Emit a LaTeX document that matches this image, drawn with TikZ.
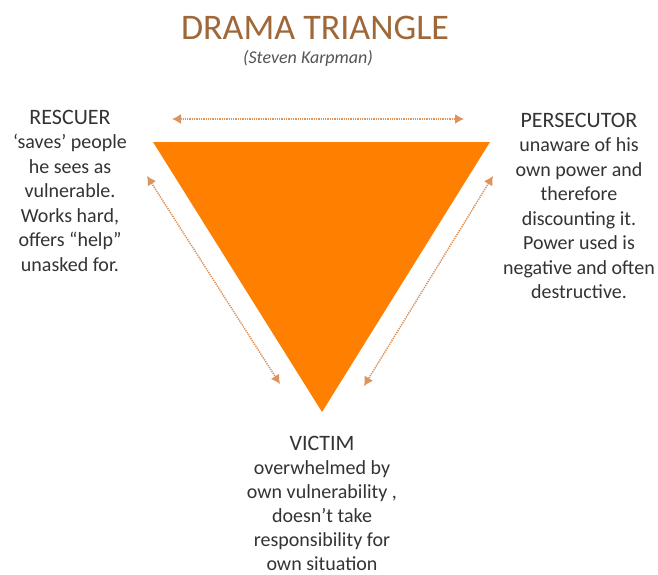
\documentclass[tikz,border=0pt]{standalone}
\usepackage{fontspec}
\setmainfont{Carlito}
\usetikzlibrary{arrows.meta}
\definecolor{tri}{HTML}{FF8000}
\definecolor{arr}{HTML}{DC935C}
\definecolor{txt}{HTML}{333333}
\definecolor{ttl}{HTML}{A06838}
\definecolor{sub}{HTML}{555555}
\newcommand\hdfont{\fontsize{22}{24.5}\selectfont}
\begin{document}
\begin{tikzpicture}[x=1pt,y=-1pt,
  lbl/.style={align=center, text=txt, inner sep=0pt, font=\fontsize{20}{24.5}\selectfont},
  link/.style={arr, line width=1.5pt, dash pattern=on 1.3pt off 1pt,
    {Latex[length=9pt,width=10pt]}-{Latex[length=9pt,width=10pt]}}]
\useasboundingbox (0,0) rectangle (658,575);
\fill[white] (0,0) rectangle (658,575);
% triangle
\coordinate (tl) at (153,142);
\coordinate (tr) at (490,142);
\coordinate (bt) at (322,412);
\fill[tri] (tl) -- (tr) -- (bt) -- cycle;
% arrow ends
\coordinate (a1) at (172,119);
\coordinate (a2) at (464,119);
\coordinate (b1) at (147,176);
\coordinate (b2) at (280,384);
\coordinate (c1) at (493,176);
\coordinate (c2) at (364,386);
\draw[link] (a1) -- (a2);
\draw[link] (b1) -- (b2);
\draw[link] (c1) -- (c2);
% titles
\node[text=ttl, inner sep=0pt, font=\fontsize{36}{36}\selectfont] (title) at (315,28) {DRAMA TRIANGLE};
\node[text=sub, inner sep=0pt, font=\fontsize{18}{18}\selectfont\itshape] (subt) at (308,58) {(Steven Karpman)};
% labels
\node[lbl] (resc) at (70,190.5) {{\hdfont RESCUER}\\‘saves’ people\\he sees as\\vulnerable.\\Works hard,\\offers “help”\\unasked for.};
\node[lbl] (pers) at (579,206) {{\hdfont PERSECUTOR}\\unaware of his\\own power and\\therefore\\discounting it.\\Power used is\\negative and often\\destructive.};
\node[lbl, font=\fontsize{20}{24}\selectfont] (vict) at (322,503) {{\hdfont VICTIM}\\overwhelmed by\\own vulnerability ,\\doesn’t take\\responsibility for\\own situation};
\end{tikzpicture}
\end{document}
